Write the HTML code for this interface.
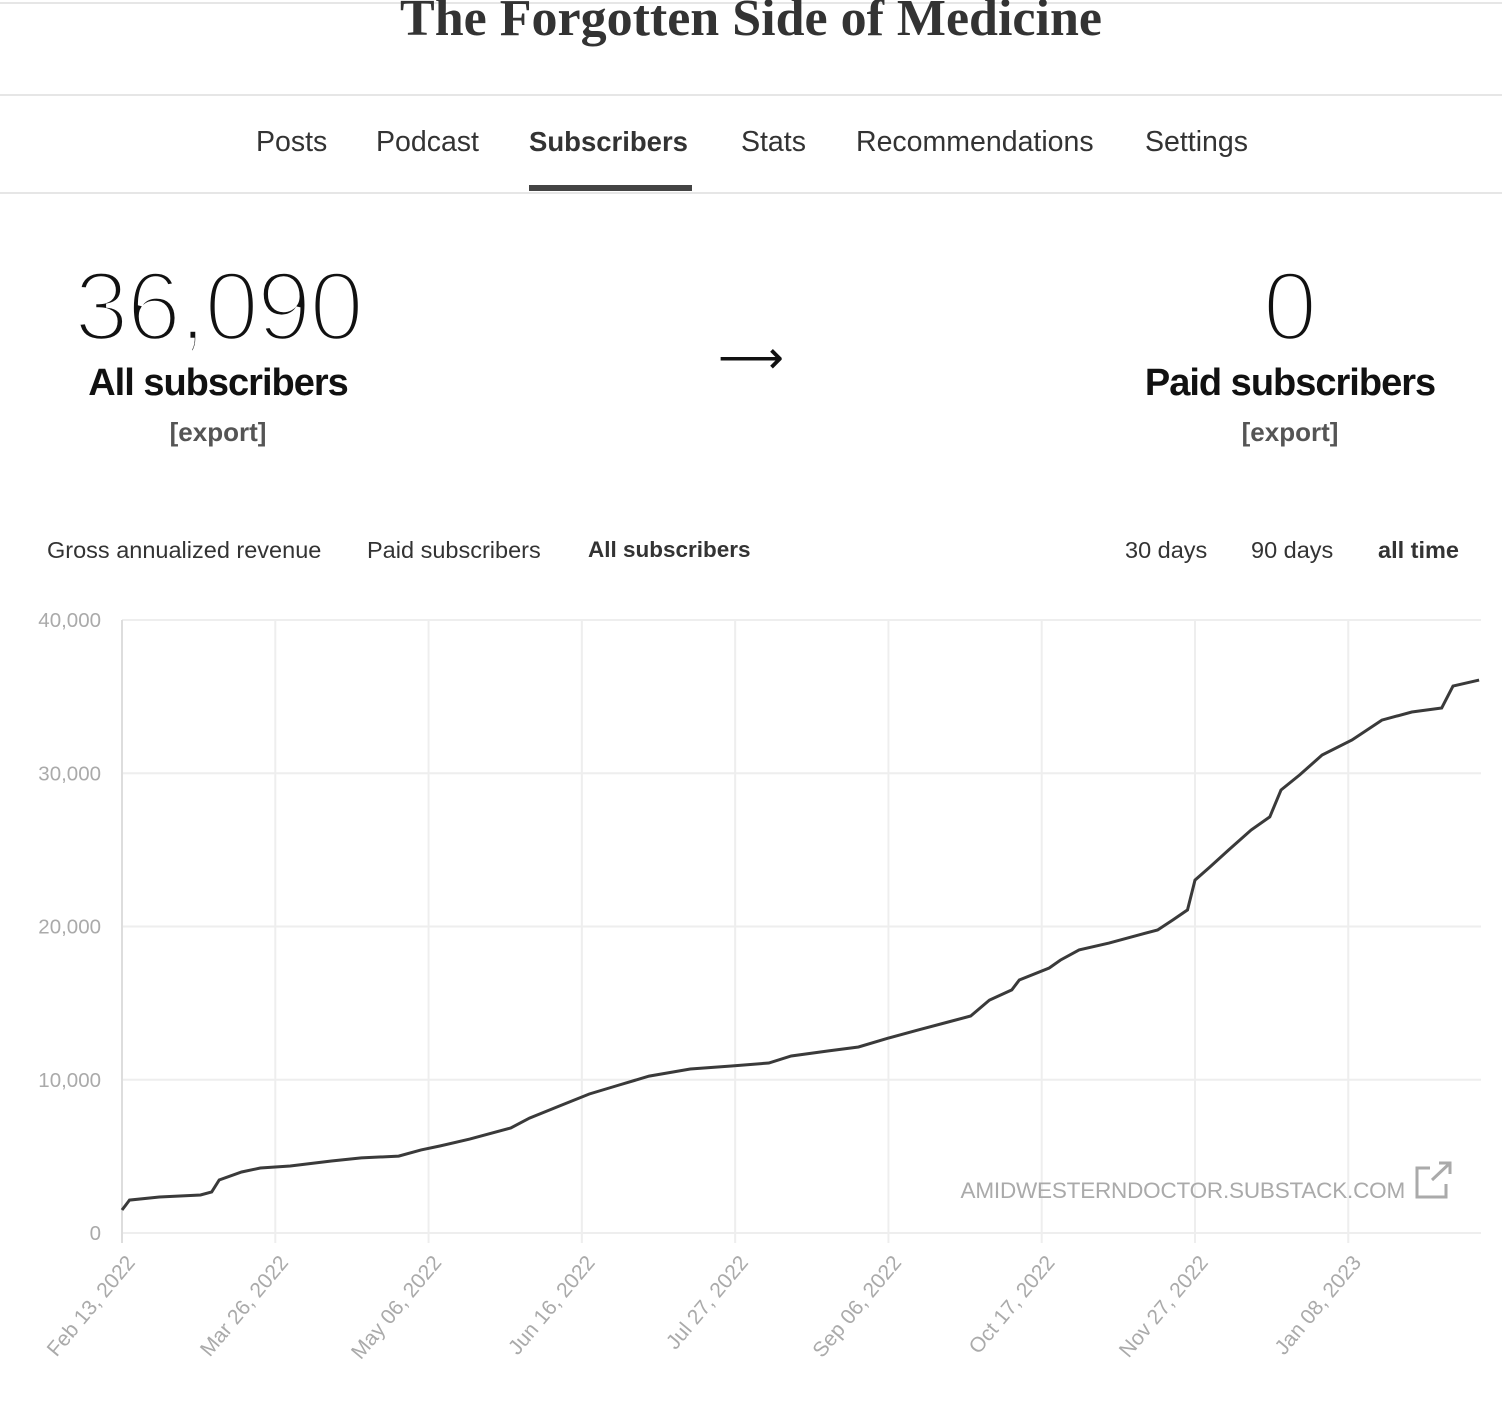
<!DOCTYPE html>
<html><head><meta charset="utf-8">
<style>
body{margin:0;width:1502px;height:1416px;background:#fff;overflow:hidden;font-family:"Liberation Sans",sans-serif;position:relative;color:#222}
.abs{position:absolute}
.thin{-webkit-text-stroke:4.5px #fff;paint-order:fill stroke}
.nav{font-size:28.5px;color:#333;top:126px}
.tab{font-size:23.5px;color:#333;top:537px}
</style></head>
<body>
<div class="abs" style="left:0;top:2px;width:1502px;height:2px;background:#e6e6e6"></div>
<div class="abs" style="left:0;width:1502px;top:-11px;text-align:center;font-family:'Liberation Serif',serif;font-weight:bold;font-size:52px;color:#333">The Forgotten Side of Medicine</div>
<div class="abs" style="left:0;top:94px;width:1502px;height:2px;background:#e6e6e6"></div>
<div class="abs" style="left:0;top:192px;width:1502px;height:2px;background:#e6e6e6"></div>
<div class="abs nav" style="left:256px">Posts</div>
<div class="abs nav" style="left:376px">Podcast</div>
<div class="abs nav" style="left:529px;font-weight:bold;font-size:27.5px">Subscribers</div>
<div class="abs" style="left:529px;top:185px;width:163px;height:6px;background:#444"></div>
<div class="abs nav" style="left:741px">Stats</div>
<div class="abs nav" style="left:856px">Recommendations</div>
<div class="abs nav" style="left:1145px">Settings</div>

<div class="abs thin" style="left:18px;width:400px;top:250px;text-align:center;font-size:98px;color:#111;letter-spacing:-2px">36,090</div>
<div class="abs" style="left:18px;width:400px;top:362px;text-align:center;font-size:38px;font-weight:bold;color:#111;letter-spacing:-1px">All subscribers</div>
<div class="abs" style="left:18px;width:400px;top:417px;text-align:center;font-size:26px;font-weight:bold;color:#555">[export]</div>
<div class="abs" style="left:718px;top:330px;font-size:46px;color:#111">⟶</div>
<div class="abs thin" style="left:1090px;width:400px;top:250px;text-align:center;font-size:98px;color:#111">0</div>
<div class="abs" style="left:1090px;width:400px;top:362px;text-align:center;font-size:38px;font-weight:bold;color:#111;letter-spacing:-1px">Paid subscribers</div>
<div class="abs" style="left:1090px;width:400px;top:417px;text-align:center;font-size:26px;font-weight:bold;color:#555">[export]</div>

<div class="abs tab" style="left:47px">Gross annualized revenue</div>
<div class="abs tab" style="left:367px">Paid subscribers</div>
<div class="abs tab" style="left:588px;font-weight:bold;font-size:22.5px">All subscribers</div>
<div class="abs tab" style="left:1125px">30 days</div>
<div class="abs tab" style="left:1251px">90 days</div>
<div class="abs tab" style="left:1378px;font-weight:bold">all time</div>

<svg class="abs" style="left:0;top:0" width="1502" height="1416">
<g id="grid"></g><g id="labels"></g>
<text x="1405" y="1198" text-anchor="end" font-size="22.5" fill="#aaa" font-family="Liberation Sans, sans-serif" letter-spacing="-0.2">AMIDWESTERNDOCTOR.SUBSTACK.COM</text>
<g stroke="#aaa" stroke-width="3" fill="none"><path d="M1430 1168 h-13 v29 h29 v-13"/><path d="M1432 1180 L1450 1163 M1439 1163 h11 v11"/></g>
<path id="line" fill="none" stroke="#3a3a3a" stroke-width="3"/>
</svg>
<script>
const days=[0,2,10,21,24,26,32,37,45,56,64,74,80,85,93,104,109,117,125,133,141,152,163,173,179,189,197,205,213,221,227,232,238,240,248,251,256,264,272,277,281,285,287,291,296,302,307,310,315,321,329,337,345,353,356,363];
const subs=[1500,2150,2350,2480,2680,3460,3980,4240,4370,4700,4900,5020,5420,5680,6130,6850,7500,8290,9070,9660,10240,10700,10900,11090,11550,11880,12140,12720,13250,13770,14160,15200,15860,16510,17290,17810,18470,18920,19450,19770,20420,21080,23030,23880,24990,26300,27150,28910,29890,31190,32170,33470,34000,34260,35690,36080];
const yTicks=[0,10000,20000,30000,40000];
const xTickDays=[0,41,82,123,164,205,246,287,328];
const xTickLabels=["Feb 13, 2022","Mar 26, 2022","May 06, 2022","Jun 16, 2022","Jul 27, 2022","Sep 06, 2022","Oct 17, 2022","Nov 27, 2022","Jan 08, 2023"];
const X0=122,X1=1481,Y0=1233,Y1=620,DMAX=363.5,VMAX=40000;
const xs=d=>X0+d/DMAX*(X1-X0), ys=v=>Y0-v/VMAX*(Y0-Y1);
const NS="http://www.w3.org/2000/svg";
const grid=document.getElementById('grid'),lab=document.getElementById('labels');
function mk(tag,at,parent){const e=document.createElementNS(NS,tag);for(const k in at)e.setAttribute(k,at[k]);parent.appendChild(e);return e;}
yTicks.forEach(v=>{
  const l=mk('line',{x1:X0,x2:X1,y1:ys(v),y2:ys(v),stroke:'#eee','stroke-width':2},grid);
  
  
  const t=mk('text',{x:101,y:ys(v)+7,'text-anchor':'end','font-size':20.5,fill:'#aaa','font-family':'Liberation Sans, sans-serif'},lab);
  t.textContent=v.toLocaleString('en-US');
  
  
});
xTickDays.forEach((d,i)=>{
  const l=mk('line',{x1:xs(d),x2:xs(d),y1:Y1,y2:Y0+10,stroke:i==0?'#ddd':'#eee','stroke-width':2},grid);
  
  
  const t=mk('text',{x:xs(d)+14,y:Y0+30,'text-anchor':'end','font-size':21,fill:'#aaa','font-family':'Liberation Sans, sans-serif',transform:`rotate(-50 ${xs(d)+14} ${Y0+30})`},lab);
  t.textContent=xTickLabels[i];
  
  
});
document.getElementById('line').setAttribute('d',days.map((d,i)=>(i?'L':'M')+xs(d).toFixed(1)+' '+ys(subs[i]).toFixed(1)).join(' '));
</script>
</body></html>
